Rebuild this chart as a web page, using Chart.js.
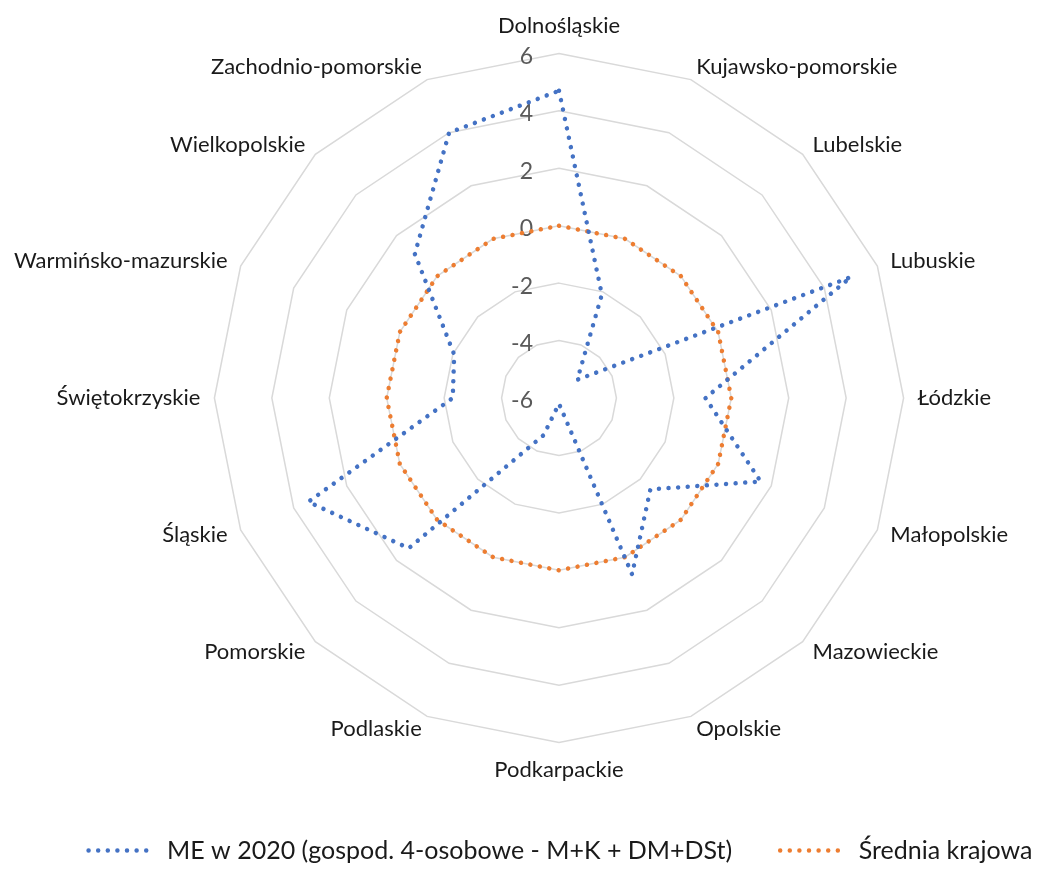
<!DOCTYPE html>
<html>
<head>
<meta charset="utf-8">
<script src="https://cdn.jsdelivr.net/npm/chart.js@4.4.1/dist/chart.umd.min.js"></script>
<style>
  html, body { margin: 0; padding: 0; background: #fff; overflow: hidden; }
  /* a bit wider than the page: the long left labels need room, Excel let the radar sit right of centre */
  #wrap { width: 1093px; height: 883px; margin-left: -6px; }
</style>
</head>
<body>
<div id="wrap"><canvas id="radar"></canvas></div>
<script>
// categories (voivodeships), clockwise from the top
const regions = ['Dolnośląskie', 'Kujawsko-pomorskie', 'Lubelskie', 'Lubuskie', 'Łódzkie', 'Małopolskie',
    'Mazowieckie', 'Opolskie', 'Podkarpackie', 'Podlaskie', 'Pomorskie', 'Śląskie', 'Świętokrzyskie',
    'Warmińsko-mazurskie', 'Wielkopolskie', 'Zachodnio-pomorskie']

const meValues = [4.7, -2.1, -5.1, 5.0, -0.9, 1.6, -1.5, 0.65, -5.8, -4.6, 1.4, 3.45, -2.3, -2.05, 1.1, 4.0]
const avgValues = [0, 0, 0, 0, 0, 0, 0, 0, 0, 0, 0, 0, 0, 0, 0, 0]

const tickValues = [-6, -4, -2, 0, 2, 4, 6]

const seriesNames = ['ME w 2020 (gospod. 4-osobowe - M+K + DM+DSt)', 'Średnia krajowa']

/**
 * Excel puts the value labels beside the vertical axis, not on it
 */
const tickLabels =
{
    id: 'tickLabels',
    beforeDatasetsDraw(chart)
    {
        const scale = chart.scales.r
        const ctx = chart.ctx
        ctx.save()
        ctx.font = '23px Lato'
        ctx.fillStyle = '#595959'
        ctx.textAlign = 'right'
        ctx.textBaseline = 'middle'
        tickValues.forEach(v =>
        {
            const y = scale.yCenter - scale.getDistanceFromCenterForValue(v)
            ctx.fillText(String(v), scale.xCenter - 26, y + 3)
        })
        ctx.restore()
    }
}

/**
 * Category labels on the slanted axes are centred on the axis end in Excel,
 * Chart.js puts them fully above / below it
 */
const labelPlacement =
{
    id: 'labelPlacement',
    afterLayout(chart)
    {
        const scale = chart.scales.r
        scale._pointLabelItems.forEach((item, i) =>
        {
            const deg = Math.round(scale.getIndexAngle(i) * 180 / Math.PI) % 360
            if (deg % 90 === 0) return
            const half = (item.bottom - item.top) / 2
            const shift = (deg < 90 || deg > 270) ? half : -half
            item.y += shift
            item.top += shift
            item.bottom += shift
        })
    }
}

/**
 * The canvas is wider than the page, move the legend back under the visible part
 */
const legendShift =
{
    id: 'legendShift',
    afterLayout(chart)
    {
        chart.legend.left += 20
        chart.legend.right += 20
    }
}

const dotted = [0.01, 9.6]

new Chart(document.querySelector('#radar'),
{
    type: 'radar',
    data:
    {
        labels: regions,
        datasets:
        [
            {
                label: seriesNames[0],
                data: meValues,
                borderColor: '#4472C4',
                backgroundColor: 'transparent',
                borderWidth: 4.5,
                borderDash: dotted,
                borderCapStyle: 'round',
                pointRadius: 0,
                fill: false,
                tension: 0
            },
            {
                label: seriesNames[1],
                data: avgValues,
                borderColor: '#ED7D31',
                backgroundColor: 'transparent',
                borderWidth: 4.5,
                borderDash: dotted,
                borderCapStyle: 'round',
                pointRadius: 0,
                fill: false,
                tension: 0
            }
        ]
    },
    options:
    {
        responsive: true,
        maintainAspectRatio: false,
        animation: false,
        layout: {padding: {top: 13, bottom: 10, left: 0, right: 0}},
        scales:
        {
            r:
            {
                min: -6,
                max: 6,
                ticks: {stepSize: 2, display: false},
                grid: {color: '#d9d9d9', lineWidth: 1.5},
                angleLines: {display: false},
                pointLabels:
                {
                    padding: 14,
                    color: '#1a1a1a',
                    font: {family: 'Lato', size: 22}
                }
            }
        },
        plugins:
        {
            tooltip: {enabled: false},
            legend:
            {
                position: 'bottom',
                align: 'center',
                title: {display: true, text: '', font: {size: 1}, padding: {top: 4.5, bottom: 0}},
                labels:
                {
                    usePointStyle: true,
                    pointStyleWidth: 66,
                    padding: 48,
                    color: '#1a1a1a',
                    font: {family: 'Lato', size: 25},
                    generateLabels(chart)
                    {
                        const base = Chart.defaults.plugins.legend.labels.generateLabels(chart)
                        return base.map((item, i) => ({
                            ...item,
                            pointStyle: 'line',
                            lineWidth: 4.5,
                            lineDash: dotted,
                            lineCap: 'round',
                            strokeStyle: chart.data.datasets[i].borderColor
                        }))
                    }
                }
            }
        }
    },
    plugins: [tickLabels, labelPlacement, legendShift]
})
</script>
</body>
</html>
